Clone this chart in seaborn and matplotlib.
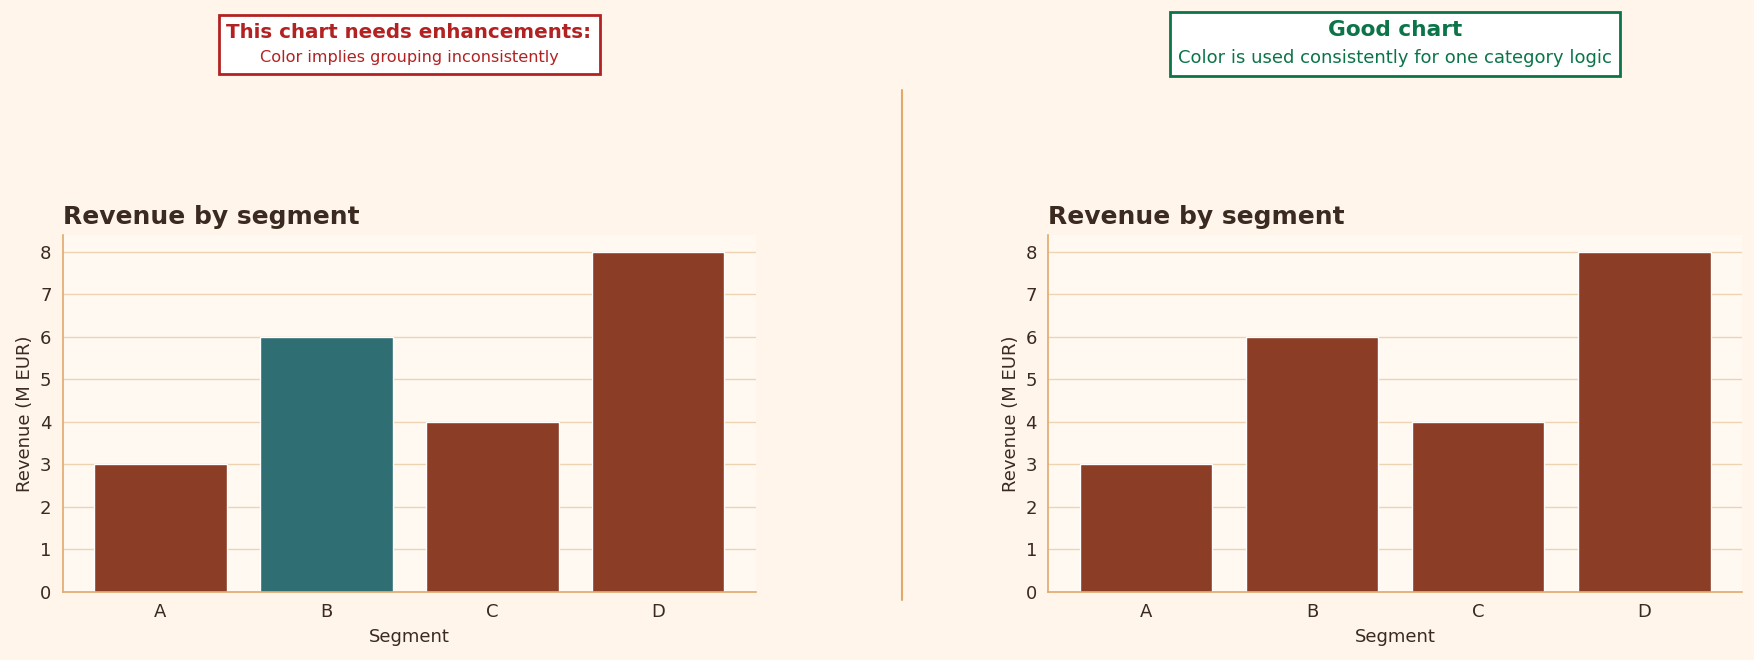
import matplotlib
matplotlib.use("Agg")
import matplotlib.pyplot as plt
import pandas as pd
import seaborn as sns
from matplotlib.patches import Rectangle
from matplotlib.lines import Line2D

segments = ["A", "B", "C", "D"]
revenue = [3, 6, 4, 8]
bad_colors = ["#8B3E25", "#2F6E73", "#8B3E25", "#8B3E25"]
good_colors = ["#8B3E25", "#8B3E25", "#8B3E25", "#8B3E25"]

BG = "#FFF5EA"
AX_BG = "#FFF9F2"
TXT = "#3A2A20"
SPINE = "#E0A96D"
GRID = "#EED3B0"
RED = "#B22222"
GREEN = "#0B7448"

sns.set_theme(style="white")
plt.rcParams["font.family"] = "sans-serif"
plt.rcParams["font.sans-serif"] = ["DejaVu Sans"]

df = pd.DataFrame({"Segment": segments, "Revenue": revenue})

fig = plt.figure(figsize=(17.54, 6.6), dpi=100, facecolor=BG)
ax1 = fig.add_axes([0.0357, 0.1035, 0.3953, 0.5406])
ax2 = fig.add_axes([0.5975, 0.1035, 0.3957, 0.5406])


def draw(ax, colors):
    sns.barplot(data=df, x="Segment", y="Revenue", hue="Segment",
                palette=colors, legend=False, width=0.8, saturation=1, ax=ax)
    ax.set_facecolor(AX_BG)
    ax.set_xlim(-0.59, 3.59)
    ax.set_ylim(0, 8.4)
    ax.set_yticks(range(0, 9))
    ax.yaxis.grid(True, color=GRID, linewidth=1)
    ax.set_axisbelow(True)
    for s in ["top", "right"]:
        ax.spines[s].set_visible(False)
    for s in ["left", "bottom"]:
        ax.spines[s].set_color(SPINE)
        ax.spines[s].set_linewidth(1.2)
    ax.tick_params(length=0, labelsize=13, labelcolor=TXT, pad=8)
    ax.set_xlabel("Segment", fontsize=13, color=TXT, labelpad=5)
    ax.set_ylabel("Revenue (M EUR)", fontsize=13, color=TXT)
    ax.set_title("Revenue by segment", loc="left", fontsize=18,
                 fontweight="bold", color=TXT, pad=8)


draw(ax1, bad_colors)
draw(ax2, good_colors)

# header boxes
fig.add_artist(Rectangle((0.1249, 0.888), 0.2172, 0.090, transform=fig.transFigure,
                         facecolor="white", edgecolor=RED, linewidth=2))
fig.text(0.2332, 0.951, "This chart needs enhancements:", ha="center", va="center",
         fontsize=14.3, fontweight="bold", color=RED)
fig.text(0.2332, 0.913, "Color implies grouping inconsistently", ha="center",
         va="center", fontsize=11.6, color=RED)

fig.add_artist(Rectangle((0.667, 0.885), 0.2566, 0.0965, transform=fig.transFigure,
                         facecolor="white", edgecolor=GREEN, linewidth=2))
fig.text(0.7953, 0.954, "Good chart", ha="center", va="center",
         fontsize=15.6, fontweight="bold", color=GREEN)
fig.text(0.7953, 0.912, "Color is used consistently for one category logic",
         ha="center", va="center", fontsize=13, color=GREEN)

# divider
fig.add_artist(Line2D([0.514, 0.514], [0.091, 0.864], transform=fig.transFigure,
                      color=SPINE, linewidth=1.5))

fig.savefig("out.png", dpi=100, facecolor=BG)
